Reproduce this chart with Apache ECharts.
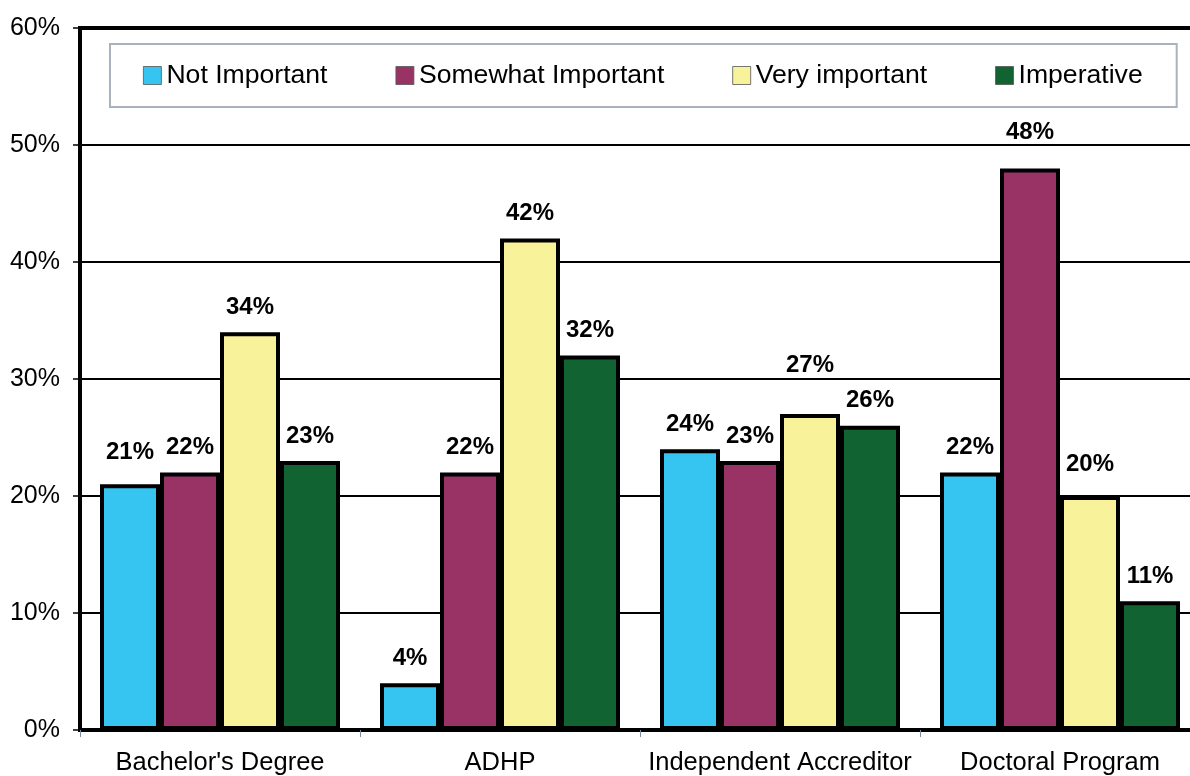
<!DOCTYPE html>
<html>
<head>
<meta charset="utf-8">
<title>Importance ratings by credential</title>
<script src="https://cdn.jsdelivr.net/npm/echarts@6/dist/echarts.min.js"></script>
<style>
  html, body { margin: 0; padding: 0; background: #ffffff; }
  #chart { width: 1190px; height: 776px; }
</style>
</head>
<body>
<div id="chart"></div>
<script>
// Categories along the x axis
const categories = ["Bachelor's Degree", "ADHP", "Independent Accreditor", "Doctoral Program"];

// Percent of respondents per rating
const notImportant      = [21, 4, 24, 22];
const somewhatImportant = [22, 22, 23, 48];
const veryImportant     = [34, 42, 27, 20];
const imperative        = [23, 32, 26, 11];

const seriesNames = ['Not Important', 'Somewhat Important', 'Very important', 'Imperative'];
const seriesData = [notImportant, somewhatImportant, veryImportant, imperative];
const seriesColors = ['#36c4f0', '#993366', '#f8f29a', '#126332'];

// A few value labels sit a little higher than the rest (extra lift in px, per series/category)
const labelLift = [
  [7, 0, 0, 0],
  [0, 0, 0, 11],
  [0, 0, 24, 7],
  [0, 0, 0, 0]
];

const FONT = "'Liberation Sans', Arial, Helvetica, sans-serif";

const chart = echarts.init(document.getElementById('chart'), null, { renderer: 'canvas' });

chart.setOption({
  backgroundColor: '#ffffff',
  animation: false,
  textStyle: { fontFamily: FONT },
  grid: {
    left: 80,
    top: 28,
    width: 1120,
    height: 702,
    outerBoundsMode: 'none',
    containLabel: false,
    show: true,
    borderColor: '#000000',
    borderWidth: 4,
    backgroundColor: 'transparent'
  },
  legend: {
    data: seriesNames,
    left: 110,
    top: 44,
    orient: 'horizontal',
    padding: [18, 34, 18, 33],
    itemWidth: 18,
    itemHeight: 18,
    itemGap: 68,
    borderColor: '#a9b3c0',
    borderWidth: 2,
    backgroundColor: '#ffffff',
    icon: 'rect',
    itemStyle: { borderColor: '#555555', borderWidth: 0.8 },
    textStyle: { fontSize: 26.6, color: '#000000', fontFamily: FONT }
  },
  xAxis: {
    type: 'category',
    data: categories,
    axisLine: { show: true, lineStyle: { color: '#000000', width: 4 } },
    axisTick: { show: true, length: 7, lineStyle: { color: '#7b8a9e', width: 1 } },
    axisLabel: { fontSize: 25.5, color: '#000000', margin: 20, fontFamily: FONT, interval: 0 },
    splitLine: { show: false }
  },
  yAxis: {
    type: 'value',
    min: 0,
    max: 60,
    interval: 10,
    axisLine: { show: true, lineStyle: { color: '#000000', width: 4 } },
    axisTick: { show: true, length: 7, lineStyle: { color: '#000000', width: 1.5 } },
    axisLabel: { fontSize: 25, color: '#000000', margin: 20, fontFamily: FONT, formatter: '{value}%' },
    splitLine: { show: true, lineStyle: { color: '#000000', width: 2 } }
  },
  series: seriesNames.map((name, i) => ({
    name: name,
    type: 'bar',
    data: seriesData[i].map((v, j) => ({
      value: v,
      label: { offset: [0, -labelLift[i][j]] }
    })),
    barWidth: 60,
    barGap: '0%',
    itemStyle: { color: seriesColors[i], borderColor: '#000000', borderWidth: 4 },
    label: {
      show: true,
      position: 'top',
      distance: 13,
      formatter: '{c}%',
      fontSize: 24,
      fontWeight: 'bold',
      color: '#000000',
      fontFamily: FONT
    }
  }))
});
</script>
</body>
</html>
